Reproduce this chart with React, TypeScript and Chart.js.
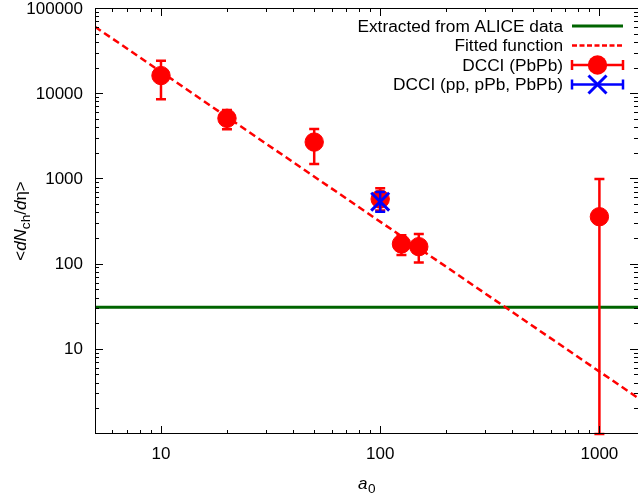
import React, { useEffect, useRef } from "react";
import { Chart, registerables } from "chart.js";

Chart.register(...registerables);

// ---- data ----
const redX = [10, 20, 50, 100, 125, 150, 1000];
const redY = [16100, 5070, 2670, 573, 170, 158, 355];
const redYHigh = [24000, 6350, 3800, 766, 215, 222, 985];
const redYLow = [8480, 3770, 1480, 420, 126, 103, 1];

const blueX = [100];
const blueY = [533];
const blueYHigh = [692];
const blueYLow = [406];

const aliceX = [5, 1500];
const aliceY = [30.7, 30.7];

const fitX = [5, 1500];
const fitY = [60300, 2.65];

const xMajorTicks = [10, 100, 1000];
const yMajorTicks = [10, 100, 1000, 10000, 100000];
const xMinorTicks = [5, 6, 7, 8, 9, 20, 30, 40, 50, 60, 70, 80, 90, 200, 300, 400, 500, 600, 700, 800, 900];
const yMinorTicks = [
  2, 3, 4, 5, 6, 7, 8, 9, 20, 30, 40, 50, 60, 70, 80, 90, 200, 300, 400, 500, 600, 700, 800, 900,
  2000, 3000, 4000, 5000, 6000, 7000, 8000, 9000, 20000, 30000, 40000, 50000, 60000, 70000, 80000, 90000,
];

const legendLabels = ["Extracted from ALICE data", "Fitted function", "DCCI (PbPb)", "DCCI (pp, pPb, PbPb)"];

const RED = "#ff0000";
const BLUE = "#0000ff";
const GREEN = "#006400";
const FONT = "'Liberation Sans', Arial, sans-serif";
const DASH = [7, 4];

function drawErrBar(ctx: CanvasRenderingContext2D, px: number, pl: number, ph: number, color: string) {
  ctx.save();
  ctx.strokeStyle = color;
  ctx.lineWidth = 2.5;
  ctx.beginPath();
  ctx.moveTo(px, pl);
  ctx.lineTo(px, ph);
  ctx.moveTo(px - 5, pl);
  ctx.lineTo(px + 5, pl);
  ctx.moveTo(px - 5, ph);
  ctx.lineTo(px + 5, ph);
  ctx.stroke();
  ctx.restore();
}

const gnuplotPlugin = {
  id: "gnuplotLook",
  beforeDatasetDraw(chart: any, args: any) {
    const ds = chart.data.datasets[args.index];
    const ctx = chart.ctx as CanvasRenderingContext2D;
    const xs = chart.scales.x;
    const ys = chart.scales.y;
    if (ds.label === legendLabels[2]) {
      redX.forEach((x, i) => {
        drawErrBar(ctx, xs.getPixelForValue(x), ys.getPixelForValue(redYLow[i]), ys.getPixelForValue(redYHigh[i]), RED);
      });
    }
    if (ds.label === legendLabels[3]) {
      blueX.forEach((x, i) => {
        drawErrBar(ctx, xs.getPixelForValue(x), ys.getPixelForValue(blueYLow[i]), ys.getPixelForValue(blueYHigh[i]), BLUE);
      });
    }
  },
  afterDraw(chart: any) {
    const ctx = chart.ctx as CanvasRenderingContext2D;
    const { left, right, top, bottom } = chart.chartArea;
    const xs = chart.scales.x;
    const ys = chart.scales.y;
    ctx.save();
    // frame
    ctx.strokeStyle = "#000";
    ctx.lineWidth = 1;
    ctx.strokeRect(left + 0.5, top + 0.5, right - left, bottom - top - 1);
    // ticks
    const tick = (len: number, vals: number[], axis: "x" | "y") => {
      ctx.beginPath();
      vals.forEach((v) => {
        if (axis === "x") {
          const p = Math.round(xs.getPixelForValue(v)) + 0.5;
          ctx.moveTo(p, bottom);
          ctx.lineTo(p, bottom - len);
          ctx.moveTo(p, top);
          ctx.lineTo(p, top + len);
        } else {
          const p = Math.round(ys.getPixelForValue(v)) + 0.5;
          ctx.moveTo(left, p);
          ctx.lineTo(left + len, p);
          ctx.moveTo(right, p);
          ctx.lineTo(right - len, p);
        }
      });
      ctx.stroke();
    };
    tick(8, xMajorTicks, "x");
    tick(4, xMinorTicks, "x");
    tick(8, yMajorTicks, "y");
    tick(4, yMinorTicks, "y");

    // tick labels
    ctx.fillStyle = "#000";
    ctx.font = `17px ${FONT}`;
    ctx.textAlign = "right";
    ctx.textBaseline = "middle";
    yMajorTicks.forEach((v) => ctx.fillText(String(v), left - 12, ys.getPixelForValue(v) + 1));
    ctx.textAlign = "center";
    xMajorTicks.forEach((v) => ctx.fillText(String(v), xs.getPixelForValue(v), bottom + 20));

    // x title: a_0
    const cx = (left + right) / 2;
    ctx.textAlign = "left";
    ctx.textBaseline = "alphabetic";
    ctx.font = `italic 17px ${FONT}`;
    const wa = ctx.measureText("a").width;
    ctx.font = `13.6px ${FONT}`;
    const w0 = ctx.measureText("0").width;
    const sx = cx - (wa + w0) / 2;
    ctx.font = `italic 17px ${FONT}`;
    ctx.fillText("a", sx, 489);
    ctx.font = `13.6px ${FONT}`;
    ctx.fillText("0", sx + wa + 0.5, 493);

    // y title: <dN_ch/dη>
    const parts: [string, string, number][] = [
      ["<", `17px ${FONT}`, 0],
      ["d", `italic 17px ${FONT}`, 0],
      ["N", `italic 17px ${FONT}`, 0],
      ["ch", `13.6px ${FONT}`, 4],
      ["/", `17px ${FONT}`, 0],
      ["d", `italic 17px ${FONT}`, 0],
      ["η", `17px ${FONT}`, 0],
      [">", `17px ${FONT}`, 0],
    ];
    let total = 0;
    parts.forEach(([t, f]) => {
      ctx.font = f;
      total += ctx.measureText(t).width;
    });
    ctx.save();
    ctx.translate(26, (top + bottom) / 2);
    ctx.rotate(-Math.PI / 2);
    let px = -total / 2;
    parts.forEach(([t, f, dy]) => {
      ctx.font = f;
      ctx.fillText(t, px, dy);
      px += ctx.measureText(t).width;
    });
    ctx.restore();

    // legend
    const rows = [26, 45.5, 65, 84.5];
    const textRight = 563;
    const s0 = 572;
    const s1 = 623;
    const sc = (s0 + s1) / 2;
    ctx.font = `17.3px ${FONT}`;
    ctx.textAlign = "right";
    ctx.textBaseline = "middle";
    legendLabels.forEach((lab, i) => ctx.fillText(lab, textRight, rows[i] + 1));

    // row 1: green line
    ctx.strokeStyle = GREEN;
    ctx.lineWidth = 3;
    ctx.beginPath();
    ctx.moveTo(s0, rows[0]);
    ctx.lineTo(s1, rows[0]);
    ctx.stroke();
    // row 2: dashed red
    ctx.strokeStyle = RED;
    ctx.lineWidth = 2.5;
    ctx.setLineDash([5, 2.5]);
    ctx.beginPath();
    ctx.moveTo(s0, rows[1]);
    ctx.lineTo(s1, rows[1]);
    ctx.stroke();
    ctx.setLineDash([]);
    // rows 3, 4: error bar samples
    const hbar = (y: number, color: string) => {
      ctx.strokeStyle = color;
      ctx.lineWidth = 2.5;
      ctx.beginPath();
      ctx.moveTo(s0, y);
      ctx.lineTo(s1, y);
      ctx.moveTo(s0, y - 5);
      ctx.lineTo(s0, y + 5);
      ctx.moveTo(s1, y - 5);
      ctx.lineTo(s1, y + 5);
      ctx.stroke();
    };
    hbar(rows[2], RED);
    ctx.fillStyle = RED;
    ctx.beginPath();
    ctx.arc(sc, rows[2], 9.7, 0, Math.PI * 2);
    ctx.fill();
    hbar(rows[3], BLUE);
    ctx.strokeStyle = BLUE;
    ctx.lineWidth = 3;
    ctx.beginPath();
    ctx.moveTo(sc - 9, rows[3] - 9);
    ctx.lineTo(sc + 9, rows[3] + 9);
    ctx.moveTo(sc - 9, rows[3] + 9);
    ctx.lineTo(sc + 9, rows[3] - 9);
    ctx.stroke();

    ctx.restore();
  },
};

export default function App() {
  const ref = useRef<HTMLCanvasElement | null>(null);
  useEffect(() => {
    if (!ref.current) return;
    const chart = new Chart(ref.current, {
      type: "scatter",
      data: {
        datasets: [
          {
            label: legendLabels[3],
            data: blueX.map((x, i) => ({ x, y: blueY[i] })),
            pointStyle: "crossRot",
            pointRadius: 12.7,
            pointBorderWidth: 3,
            borderColor: BLUE,
            backgroundColor: BLUE,
          },
          {
            label: legendLabels[2],
            data: redX.map((x, i) => ({ x, y: redY[i] })),
            pointStyle: "circle",
            pointRadius: 9.2,
            pointBorderWidth: 1,
            borderColor: RED,
            backgroundColor: RED,
          },
          {
            type: "line",
            label: legendLabels[1],
            data: fitX.map((x, i) => ({ x, y: fitY[i] })),
            borderColor: RED,
            borderWidth: 2.5,
            borderDash: DASH,
            pointRadius: 0,
            fill: false,
          },
          {
            type: "line",
            label: legendLabels[0],
            data: aliceX.map((x, i) => ({ x, y: aliceY[i] })),
            borderColor: GREEN,
            borderWidth: 3,
            pointRadius: 0,
            fill: false,
          },
        ] as any,
      },
      options: {
        animation: false,
        responsive: false,
        devicePixelRatio: 1,
        layout: { padding: { left: 95, right: 0, top: 8, bottom: 63 }, autoPadding: false } as any,
        scales: {
          x: { type: "logarithmic", min: 5, max: 1500, display: false },
          y: { type: "logarithmic", min: 1, max: 100000, display: false },
        },
        plugins: {
          legend: { display: false },
          tooltip: { enabled: false },
        },
        events: [],
      },
      plugins: [gnuplotPlugin],
    });
    return () => chart.destroy();
  }, []);
  return (
    <div style={{ position: "fixed", left: 0, top: 0, width: 638, height: 497, background: "#fff" }}>
      <canvas ref={ref} width={638} height={497} style={{ display: "block" }} />
    </div>
  );
}
